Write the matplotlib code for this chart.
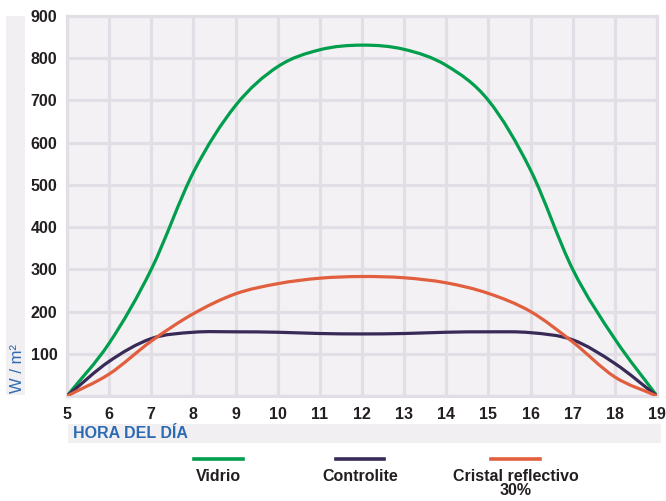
import matplotlib
matplotlib.use('Agg')
import matplotlib.pyplot as plt
from matplotlib.path import Path
from matplotlib.patches import PathPatch, Rectangle
from matplotlib.lines import Line2D

# ---------------- data ----------------
hours = [5, 6, 7, 8, 9, 10, 11, 12, 13, 14, 15, 16, 17, 18, 19]
vidrio = [0, 125, 300, 530, 688, 780, 820, 831, 821, 783, 700, 535, 300, 135, 0]
controlite = [0, 82, 136, 151, 152, 151, 148, 147, 148, 151, 152, 150, 133, 77, 0]
cristal = [0, 52, 130, 195, 242, 266, 279, 283, 280, 268, 243, 200, 128, 45, 0]
y_ticks = [0, 100, 200, 300, 400, 500, 600, 700, 800, 900]
y_tick_labels = ['', '100', '200', '300', '400', '500', '600', '700', '800', '900']
series_names = ['Vidrio', 'Controlite', 'Cristal reflectivo\n30%']
x_title = 'HORA DEL DÍA'
y_title = 'W / m²'

GREEN = '#009e4d'
PURPLE = '#372a57'
ORANGE = '#e15f3e'
colors = [GREEN, PURPLE, ORANGE]
TEXT = '#231f20'
BLUE = '#2c6bb3'
BG = '#f3f1f3'
GRID = '#e1dee5'
BAND = '#f1eff1'

plt.rcParams['font.family'] = ['Liberation Sans', 'DejaVu Sans']

W, H = 666, 501
fig = plt.figure(figsize=(W / 100, H / 100), dpi=100)
fig.patch.set_facecolor('white')


def fx(px):
    return px / W


def fy(py):
    return 1 - py / H


ax_l, ax_r, ax_t, ax_b = 67, 657, 16, 396
ax = fig.add_axes([fx(ax_l), fy(ax_b), (ax_r - ax_l) / W, (ax_b - ax_t) / H])
ax.set_facecolor(BG)
ax.set_xlim(hours[0], hours[-1])
ax.set_ylim(0, 900)
ax.set_xticks(hours)
ax.set_xticklabels([str(h) for h in hours])
ax.set_yticks(y_ticks)
ax.set_yticklabels(y_tick_labels)
ax.tick_params(length=0, labelsize=11.5, labelcolor=TEXT)
ax.tick_params(axis='x', pad=8)
ax.tick_params(axis='y', pad=7)
for lab in ax.get_xticklabels() + ax.get_yticklabels():
    lab.set_fontweight('bold')
ax.grid(True, color=GRID, linewidth=2.3)
ax.set_axisbelow(True)
for s in ax.spines.values():
    s.set_color(GRID)
    s.set_linewidth(2.3)


def smooth_path(xs, ys):
    # Catmull-Rom -> cubic Bezier segments through the data points
    n = len(xs)
    verts = [(xs[0], ys[0])]
    codes = [Path.MOVETO]

    def tangent(i):
        if i == 0:
            return (xs[1] - xs[0], ys[1] - ys[0])
        if i == n - 1:
            return (xs[-1] - xs[-2], ys[-1] - ys[-2])
        return ((xs[i + 1] - xs[i - 1]) / 2, (ys[i + 1] - ys[i - 1]) / 2)
    for i in range(n - 1):
        t0 = tangent(i)
        t1 = tangent(i + 1)
        c1 = (xs[i] + t0[0] / 3, ys[i] + t0[1] / 3)
        c2 = (xs[i + 1] - t1[0] / 3, ys[i + 1] - t1[1] / 3)
        verts += [c1, c2, (xs[i + 1], ys[i + 1])]
        codes += [Path.CURVE4] * 3
    return Path(verts, codes)


for vals, c in zip([vidrio, controlite, cristal], colors):
    p = PathPatch(smooth_path(hours, vals), facecolor='none', edgecolor=c,
                  linewidth=2.3, capstyle='round', joinstyle='round', zorder=3)
    ax.add_patch(p)

# y title band
fig.patches.append(Rectangle((fx(6), fy(395)), (25 - 6) / W, (395 - 16) / H,
                             transform=fig.transFigure, facecolor=BAND,
                             edgecolor='none', zorder=0))
fig.text(fx(17), fy(393), y_title, rotation=90, ha='center', va='bottom',
         color=BLUE, fontsize=12)

# x title band
fig.patches.append(Rectangle((fx(68), fy(443)), (661 - 68) / W, (443 - 424) / H,
                             transform=fig.transFigure, facecolor=BAND,
                             edgecolor='none', zorder=0))
fig.text(fx(73), fy(434), x_title, ha='left', va='center', color=BLUE,
         fontsize=11.5, fontweight='bold')

# legend
legend_lines = [(194, 243), (336, 384), (491, 540)]
for (x0, x1), c, name in zip(legend_lines, colors, series_names):
    fig.add_artist(Line2D([fx(x0), fx(x1)], [fy(459), fy(459)],
                          transform=fig.transFigure, color=c, linewidth=2.6))
    fig.text(fx((x0 + x1) / 2), fy(469), name, ha='center', va='top',
             color=TEXT, fontsize=11.5, fontweight='bold', linespacing=0.95)

fig.savefig('out.png', dpi=100)
